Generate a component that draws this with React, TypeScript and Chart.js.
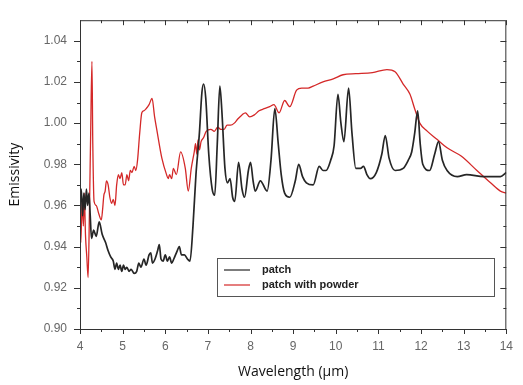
import React, { useEffect, useRef } from "react";
import { Chart, registerables } from "chart.js";
Chart.register(...registerables);

const seriesLabels = ["patch", "patch with powder"];

const patchX = [4.0, 4.03, 4.06, 4.09, 4.12, 4.15, 4.18, 4.21, 4.24, 4.27, 4.32, 4.38, 4.45, 4.52, 4.6, 4.66, 4.72, 4.78, 4.82, 4.86, 4.9, 4.94, 4.98, 5.02, 5.06, 5.1, 5.15, 5.2, 5.27, 5.33, 5.38, 5.43, 5.5, 5.55, 5.62, 5.66, 5.7, 5.76, 5.82, 5.86, 5.9, 5.95, 6.0, 6.05, 6.1, 6.15, 6.2, 6.28, 6.33, 6.38, 6.45, 6.52, 6.58, 6.65, 6.72, 6.8, 6.86, 6.9, 6.95, 7.02, 7.1, 7.16, 7.22, 7.28, 7.33, 7.4, 7.46, 7.52, 7.58, 7.63, 7.72, 7.8, 7.86, 7.95, 8.0, 8.06, 8.11, 8.23, 8.39, 8.48, 8.57, 8.65, 8.72, 8.8, 8.92, 9.05, 9.13, 9.22, 9.31, 9.47, 9.61, 9.7, 9.77, 9.88, 9.96, 10.05, 10.12, 10.19, 10.3, 10.38, 10.47, 10.58, 10.65, 10.73, 10.81, 10.95, 11.08, 11.16, 11.25, 11.39, 11.58, 11.7, 11.78, 11.85, 11.92, 11.98, 12.04, 12.2, 12.32, 12.41, 12.5, 12.61, 12.85, 13.07, 13.47, 13.86, 14.0];
const patchY = [0.962, 0.968, 0.955, 0.966, 0.958, 0.968, 0.96, 0.966, 0.955, 0.944, 0.948, 0.945, 0.952, 0.946, 0.942, 0.938, 0.935, 0.933, 0.929, 0.932, 0.929, 0.931, 0.928, 0.931, 0.929, 0.93, 0.928, 0.929, 0.927, 0.928, 0.932, 0.93, 0.934, 0.931, 0.936, 0.937, 0.932, 0.934, 0.938, 0.941, 0.934, 0.933, 0.936, 0.933, 0.935, 0.932, 0.934, 0.938, 0.94, 0.936, 0.936, 0.934, 0.933, 0.95, 0.975, 0.995, 1.015, 1.019, 1.012, 0.985, 0.968, 0.965, 0.99, 1.018, 1.005, 0.978, 0.971, 0.973, 0.964, 0.962, 0.981, 0.968, 0.964, 0.977, 0.981, 0.972, 0.967, 0.972, 0.967, 0.982, 1.007, 0.99, 0.975, 0.966, 0.964, 0.972, 0.98, 0.974, 0.971, 0.97, 0.979, 0.977, 0.977, 0.982, 0.989, 1.014, 1.0, 0.991, 1.017, 0.995, 0.978, 0.978, 0.979, 0.975, 0.973, 0.976, 0.985, 0.994, 0.983, 0.977, 0.978, 0.982, 0.986, 0.995, 1.006, 0.99, 0.98, 0.977, 0.985, 0.991, 0.982, 0.977, 0.974, 0.975, 0.974, 0.974, 0.976];

const powderX = [4.0, 4.02, 4.05, 4.08, 4.1, 4.13, 4.16, 4.19, 4.22, 4.25, 4.28, 4.3, 4.33, 4.38, 4.44, 4.5, 4.53, 4.56, 4.59, 4.62, 4.66, 4.7, 4.74, 4.78, 4.82, 4.86, 4.9, 4.94, 4.98, 5.02, 5.06, 5.1, 5.14, 5.18, 5.22, 5.27, 5.31, 5.35, 5.4, 5.45, 5.5, 5.55, 5.62, 5.69, 5.75, 5.8, 5.92, 6.03, 6.07, 6.1, 6.15, 6.19, 6.26, 6.36, 6.47, 6.54, 6.61, 6.68, 6.71, 6.74, 6.77, 6.8, 6.84, 6.9, 6.96, 7.07, 7.15, 7.23, 7.3, 7.38, 7.45, 7.53, 7.62, 7.7, 7.8, 7.88, 7.98, 8.09, 8.2, 8.32, 8.45, 8.55, 8.67, 8.8, 8.92, 9.08, 9.2, 9.35, 9.47, 9.7, 9.94, 10.17, 10.47, 10.86, 11.2, 11.39, 11.58, 11.74, 11.85, 11.97, 12.15, 12.38, 12.61, 12.94, 13.31, 13.63, 13.86, 14.0];
const powderY = [0.955, 0.942, 0.962, 0.95, 0.966, 0.945, 0.935, 0.925, 0.955, 0.995, 1.03, 0.99, 0.962, 0.96, 0.956, 0.953, 0.958, 0.965, 0.967, 0.972, 0.97, 0.964, 0.961, 0.963, 0.96, 0.97, 0.975, 0.973, 0.976, 0.97, 0.97, 0.975, 0.972, 0.977, 0.976, 0.979, 0.977, 0.982, 0.995, 1.005, 1.006, 1.007, 1.009, 1.012, 1.003, 0.997, 0.983, 0.975, 0.973, 0.975, 0.973, 0.978, 0.975, 0.986, 0.978, 0.967, 0.978, 0.986, 0.99, 0.985, 0.992, 0.987, 0.991, 0.993, 0.996, 0.997, 0.996, 0.998, 0.997, 0.997, 0.999, 0.999, 1.0, 1.002, 1.004, 1.005, 1.003, 1.004, 1.006, 1.007, 1.008, 1.009, 1.005, 1.011, 1.008, 1.016, 1.017, 1.017, 1.018, 1.02, 1.0215, 1.0235, 1.024, 1.0245, 1.026, 1.025, 1.019, 1.014, 1.007, 1.0, 0.996, 0.992, 0.988, 0.984, 0.977, 0.971, 0.967, 0.966];

const xTickValues = [4, 5, 6, 7, 8, 9, 10, 11, 12, 13, 14];
const xMinorTicks = [4.5, 5.5, 6.5, 7.5, 8.5, 9.5, 10.5, 11.5, 12.5, 13.5];
const yTickValues = [0.9, 0.92, 0.94, 0.96, 0.98, 1.0, 1.02, 1.04];
const yMinorTicks = [0.91, 0.93, 0.95, 0.97, 0.99, 1.01, 1.03];

const colors = ["#262626", "#d42828"];

const framePlugin = {
  id: "frameAndLegend",
  afterDraw(chart: any) {
    const ctx = chart.ctx;
    const { left, right, top, bottom } = chart.chartArea;
    const xs = chart.scales.x;
    const ys = chart.scales.y;
    ctx.save();
    ctx.strokeStyle = "#333";
    ctx.lineWidth = 1;
    ctx.strokeRect(left + 0.5, top + 0.5, right - left - 1, bottom - top);
    const tick = (x1: number, y1: number, x2: number, y2: number) => {
      ctx.beginPath();
      ctx.moveTo(x1, y1);
      ctx.lineTo(x2, y2);
      ctx.stroke();
    };
    const drawX = (vals: number[], len: number) => {
      vals.forEach((v) => {
        const px = Math.round(xs.getPixelForValue(v)) + 0.5;
        tick(px, bottom, px, bottom + len);
        tick(px, top, px, top + len);
      });
    };
    const drawY = (vals: number[], len: number) => {
      vals.forEach((v) => {
        const py = Math.round(ys.getPixelForValue(v)) + 0.5;
        tick(left, py, left - len, py);
        tick(right, py, right - len, py);
      });
    };
    drawX(xTickValues, 5);
    drawX(xMinorTicks, 3);
    drawY(yTickValues, 6);
    drawY(yMinorTicks, 3);

    // legend box
    const bx = 217, by = 258, bw = 277, bh = 38;
    ctx.fillStyle = "#ffffff";
    ctx.fillRect(bx, by, bw, bh);
    ctx.strokeStyle = "#555";
    ctx.strokeRect(bx + 0.5, by + 0.5, bw, bh);
    ctx.font = "bold 11px 'Liberation Sans', Arial, sans-serif";
    ctx.textBaseline = "middle";
    chart.data.datasets.forEach((ds: any, i: number) => {
      const ly = by + 12 + i * 15;
      ctx.strokeStyle = ds.borderColor;
      ctx.lineWidth = 1.2;
      tick(224, ly, 250, ly);
      ctx.fillStyle = "#222";
      ctx.fillText(ds.label, 262, ly);
    });
    ctx.restore();
  },
};

export default function App() {
  const ref = useRef<HTMLCanvasElement | null>(null);
  useEffect(() => {
    document.body.style.margin = "0";
    const canvas = ref.current;
    if (!canvas) return;
    const chart = new Chart(canvas, {
      type: "line",
      data: {
        datasets: [
          {
            label: seriesLabels[0],
            data: patchX.map((x, i) => ({ x, y: patchY[i] })),
            borderColor: colors[0],
            borderWidth: 1.7,
            pointRadius: 0,
            cubicInterpolationMode: "monotone",
            order: 0,
          },
          {
            label: seriesLabels[1],
            data: powderX.map((x, i) => ({ x, y: powderY[i] })),
            borderColor: colors[1],
            borderWidth: 1.3,
            pointRadius: 0,
            cubicInterpolationMode: "monotone",
            order: 1,
          },
        ],
      },
      options: {
        responsive: false,
        animation: false,
        events: [],
        layout: { padding: { left: 0, right: 9, top: 12, bottom: 0 } },
        plugins: { legend: { display: false }, tooltip: { enabled: false } },
        scales: {
          x: {
            type: "linear",
            min: 4,
            max: 14,
            afterBuildTicks: (s: any) => {
              s.ticks = xTickValues.map((v) => ({ value: v }));
            },
            afterFit: (s: any) => {
              s.height = 56;
            },
            grid: { display: false, drawTicks: false },
            border: { display: false },
            ticks: {
              padding: 10,
              color: "#666",
              font: { family: "'Liberation Sans', Arial, sans-serif", size: 12 },
              maxRotation: 0,
              autoSkip: false,
              callback: (v: any) => String(v),
            },
            title: {
              display: true,
              text: "Wavelength (μm)",
              color: "#111",
              font: { family: "'Open Sans', sans-serif", size: 14 },
              padding: { top: 0, bottom: 5 },
            },
          },
          y: {
            type: "linear",
            min: 0.9,
            max: 1.05,
            afterBuildTicks: (s: any) => {
              s.ticks = yTickValues.map((v) => ({ value: v }));
            },
            afterFit: (s: any) => {
              s.width = 80;
            },
            grid: { display: false, drawTicks: false },
            border: { display: false },
            ticks: {
              padding: 13,
              color: "#666",
              font: { family: "'Liberation Sans', Arial, sans-serif", size: 12 },
              autoSkip: false,
              callback: (v: any) => Number(v).toFixed(2),
            },
            title: {
              display: true,
              text: "Emissivity",
              color: "#111",
              font: { family: "'Open Sans', sans-serif", size: 14 },
              padding: { top: 7, bottom: 0 },
            },
          },
        },
      },
      plugins: [framePlugin],
    } as any);
    return () => chart.destroy();
  }, []);
  return <canvas ref={ref} width={523} height={385} style={{ display: "block" }} />;
}
